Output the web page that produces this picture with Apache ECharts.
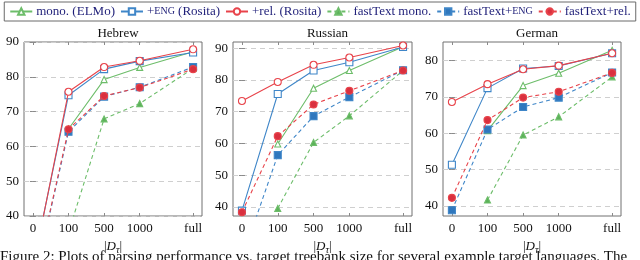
<!DOCTYPE html>
<html>
<head>
<meta charset="utf-8">
<script src="https://cdn.jsdelivr.net/npm/echarts@6/dist/echarts.min.js"></script>
<style>
html,body{margin:0;padding:0;background:#fff;}
#c{width:640px;height:260px;}
</style>
</head>
<body>
<div id="c"></div>
<script>
// ---- data ----
const xPos = [0, 1, 2, 3, 4.5];
const xLabels = ['0', '100', '500', '1000', 'full'];
const panelTitles = ['Hebrew', 'Russian', 'German'];
const seriesNames = ['mono. (ELMo)', '+ENG (Rosita)', '+rel. (Rosita)', 'fastText mono.', 'fastText+ENG', 'fastText+rel.'];

const heMono   = [null, 65.0, 79.2, 82.7, 87.2];
const heEng    = [25.5, 74.7, 82.2, 84.5, 87.0];
const heRel    = [25.0, 75.7, 82.8, 84.6, 87.9];
const heFtMono = [null, 35.3, 67.9, 72.3, 82.4];
const heFtEng  = [19.4, 64.2, 74.3, 77.0, 82.8];
const heFtRel  = [19.5, 64.9, 74.5, 76.9, 82.2];

const ruMono   = [null, 59.8, 77.4, 83.0, 90.5];
const ruEng    = [38.8, 75.6, 83.0, 85.6, 90.4];
const ruRel    = [73.4, 79.4, 84.8, 87.1, 90.9];
const ruFtMono = [null, 39.5, 60.3, 68.7, 83.0];
const ruFtEng  = [23.7, 56.3, 68.6, 74.6, 83.1];
const ruFtRel  = [38.3, 62.3, 72.3, 76.6, 83.0];

const deMono   = [null, 60.7, 73.1, 76.5, 82.8];
const deEng    = [51.3, 72.4, 77.8, 78.5, 82.0];
const deRel    = [68.6, 73.5, 77.6, 78.6, 82.0];
const deFtMono = [null, 41.6, 59.5, 64.5, 75.5];
const deFtEng  = [38.8, 61.0, 67.2, 69.8, 76.7];
const deFtRel  = [42.2, 63.6, 69.8, 71.4, 76.6];

const yTicksHe = [40, 50, 60, 70, 80, 90];
const yTicksRu = [40, 50, 60, 70, 80, 90];
const yTicksDe = [40, 50, 60, 70, 80];

// ---- layout / style ----
const FONT = '"Liberation Serif", "DejaVu Serif", serif';
const GREEN = '#6dbd6a', BLUE = '#3f86c8', RED = '#e8434a';
const GREEN_F = '#5cb259', BLUE_F = '#2f77bd', RED_F = '#d9303f';
const panels = [
  {left: 24, width: 178, ymin: 40, ymax: 90, ticks: yTicksHe, data: [heMono, heEng, heRel, heFtMono, heFtEng, heFtRel]},
  {left: 233, width: 179, ymin: 37.1, ymax: 92, ticks: yTicksRu, data: [ruMono, ruEng, ruRel, ruFtMono, ruFtEng, ruFtRel]},
  {left: 443, width: 178, ymin: 37.2, ymax: 85.1, ticks: yTicksDe, data: [deMono, deEng, deRel, deFtMono, deFtEng, deFtRel]}
];
const styles = [
  {color: GREEN, fill: '#fff', symbol: 'triangle', size: 6, dash: 'solid'},
  {color: BLUE, fill: '#fff', symbol: 'rect', size: 7, dash: 'solid'},
  {color: RED, fill: '#fff', symbol: 'circle', size: 7, dash: 'solid'},
  {color: GREEN, fill: GREEN_F, symbol: 'triangle', size: 6, dash: [4, 3]},
  {color: BLUE, fill: BLUE_F, symbol: 'rect', size: 7, dash: [4, 3]},
  {color: RED, fill: RED_F, symbol: 'circle', size: 7, dash: [4, 3]}
];
const grids = [], xAxes = [], yAxes = [], series = [], titles = [];
panels.forEach((p, i) => {
  grids.push({left: p.left, width: p.width, top: 42, height: 174, show: true,
    borderColor: '#707070', borderWidth: 1, backgroundColor: 'transparent', containLabel: false});
  const tickCommon = {show: true, inside: true, length: 3, lineStyle: {color: '#8a8a8a'}, customValues: xPos};
  xAxes.push({type: 'value', gridIndex: i, min: -0.25, max: 4.75, position: 'bottom',
    axisLine: {show: false}, splitLine: {show: false},
    axisTick: tickCommon,
    axisLabel: {customValues: xPos, margin: 6, color: '#111', fontFamily: FONT, fontSize: 13,
      formatter: v => { const k = xPos.indexOf(v); return k >= 0 ? xLabels[k] : ''; }},
    name: '|{i|D}{sb|τ}|', nameLocation: 'middle', nameGap: 21,
    nameTextStyle: {color: '#111', fontFamily: FONT, fontSize: 13,
      rich: {i: {fontStyle: 'italic', fontFamily: FONT, fontSize: 13, color: '#111'},
             sb: {fontStyle: 'italic', fontFamily: FONT, fontSize: 10, color: '#111', padding: [7, 0, 0, 0]}}}
  });
  xAxes.push({type: 'value', gridIndex: i, min: -0.25, max: 4.75, position: 'top',
    axisLine: {show: false}, splitLine: {show: false}, axisLabel: {show: false}, axisTick: tickCommon});
  yAxes.push({type: 'value', gridIndex: i, min: p.ymin, max: p.ymax, position: 'left',
    axisLine: {show: false},
    axisTick: {show: true, inside: true, length: 3, lineStyle: {color: '#8a8a8a'}, customValues: p.ticks},
    splitLine: {show: true, lineStyle: {color: '#cfcfcf', type: [5, 4], width: 1}},
    axisLabel: {customValues: p.ticks, margin: 5, color: '#111', fontFamily: FONT, fontSize: 13}
  });
  yAxes.push({type: 'value', gridIndex: i, min: p.ymin, max: p.ymax, position: 'right',
    axisLine: {show: false}, splitLine: {show: false}, axisLabel: {show: false},
    axisTick: {show: true, inside: true, length: 3, lineStyle: {color: '#8a8a8a'}, customValues: p.ticks}
  });
  p.data.forEach((arr, k) => {
    const st = styles[k];
    series.push({
      name: seriesNames[k], type: 'line', xAxisIndex: 2 * i, yAxisIndex: 2 * i,
      data: arr.map((v, j) => v === null ? null : [xPos[j], v]).filter(d => d !== null),
      symbol: st.symbol, symbolSize: st.size, showAllSymbol: true, clip: true,
      lineStyle: {color: st.color, width: 1.1, type: st.dash},
      itemStyle: {color: st.fill, borderColor: st.color, borderWidth: 1.1},
      emphasis: {disabled: true}, animation: false, z: 2 + k
    });
  });
  titles.push({text: panelTitles[i], left: p.left + p.width / 2, top: 22, textAlign: 'center',
    textStyle: {fontFamily: FONT, fontSize: 13, fontWeight: 'normal', color: '#111'}});
});

const chart = echarts.init(document.getElementById('c'), null, {renderer: 'canvas'});
chart.setOption({
  animation: false,
  title: titles,
  legend: {
    data: seriesNames, top: 2, left: 'center',
    padding: [3, 5], itemGap: 5, itemWidth: 22, itemHeight: 8,
    borderColor: '#6a6a6a', borderWidth: 1, borderRadius: 0,
    textStyle: {fontFamily: FONT, fontSize: 13, color: '#1e1e78', padding: [0, 0, 0, -1],
      rich: {sc: {fontFamily: FONT, fontSize: 10, color: '#1e1e78'}}},
    formatter: n => n.replace('ENG', '{sc|ENG}')
  },
  grid: grids, xAxis: xAxes, yAxis: yAxes, series: series,
  graphic: [{type: 'text', left: 0, top: 250,
    style: {text: 'Figure 2: Plots of parsing performance vs. target treebank size for several example target languages. The',
      fontFamily: FONT, fontSize: 15, fill: '#111'}}]
});
</script>
</body>
</html>
